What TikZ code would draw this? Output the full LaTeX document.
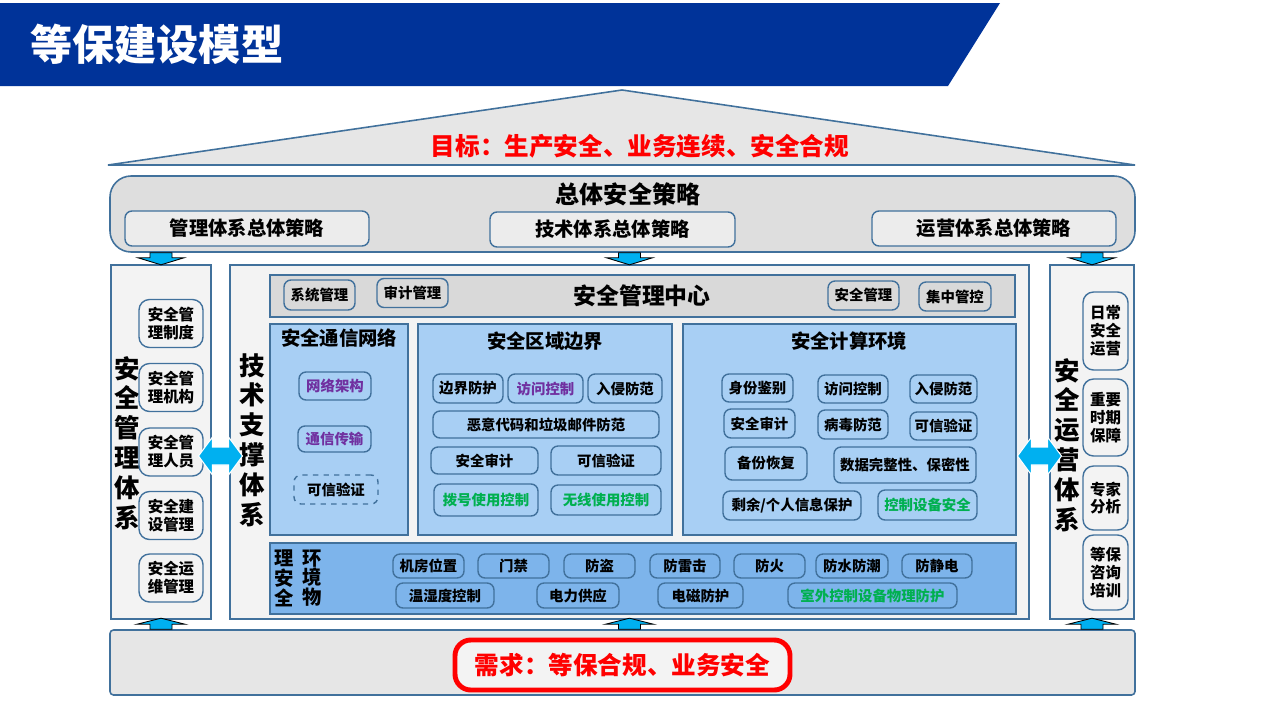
\documentclass[tikz,border=0pt]{standalone}
\usepackage{fontspec}
\setmainfont{Noto Sans CJK SC}
\usetikzlibrary{calc}

\definecolor{bannerblue}{RGB}{0,51,153}
\definecolor{lineblue}{RGB}{65,113,156}
\definecolor{roofgray}{RGB}{230,230,230}
\definecolor{boxgray}{RGB}{222,222,222}
\definecolor{subgray}{RGB}{236,236,236}
\definecolor{colgray}{RGB}{243,243,243}
\definecolor{centergray}{RGB}{217,217,217}
\definecolor{panelblue}{RGB}{168,207,244}
\definecolor{physblue}{RGB}{125,180,235}
\definecolor{arrowblue}{RGB}{0,176,240}
\definecolor{textpurple}{RGB}{112,48,160}
\definecolor{textgreen}{RGB}{0,176,80}

\tikzset{
  sz/.style 2 args={minimum width=#1*0.02cm, minimum height=#2*0.02cm, inner sep=0pt},
  fs/.style 2 args={font=\bfseries\fontsize{#1}{#2}\selectfont},
  boxline/.style={draw=lineblue, line width=0.9pt},
  item/.style={draw=lineblue, line width=0.8pt, rounded corners=4pt, align=center, fs={8.2}{10}},
  sidetitle/.style={align=center, fs={14.5}{17}},
  downarr/.pic={\filldraw[fill=arrowblue, draw=black, line width=0.5pt]
    (-11,0) -- (11,0) -- (11,5) -- (23,5) -- (0,12) -- (-23,5) -- (-11,5) -- cycle;},
  uparr/.pic={\filldraw[fill=arrowblue, draw=black, line width=0.5pt]
    (-11,0) -- (-11,-5) -- (-24,-5) -- (0,-11) -- (24,-5) -- (11,-5) -- (11,0) -- cycle;},
  dblarr/.pic={\filldraw[fill=arrowblue, draw=white, line width=0.6pt]
    (-22,0) -- (-8,-19) -- (-8,-9) -- (8,-9) -- (8,-19) -- (22,0) -- (8,19) -- (8,9)
    -- (-8,9) -- (-8,19) -- cycle;}
}

\begin{document}
\begin{tikzpicture}[x=0.02cm, y=-0.02cm]
    \useasboundingbox (0,0) rectangle (1280,720);

    % Header banner
    \fill[bannerblue] (0,3) -- (1000,3) -- (948,86) -- (0,86) -- cycle;
    \node[anchor=west, text=white, fs={24}{28}] (title) at (24,44) {等保建设模型};

    % Roof: goal
    \draw[lineblue, line width=0.9pt, fill=roofgray] (108,165) -- (622,90) -- (1135,165) -- cycle;
    \node[text=red, fs={14}{16}] (goal) at (640,146) {目标：生产安全、业务连续、安全合规};

    % Overall policy
    \node[boxline, fill=boxgray, rounded corners=12pt, sz={1025}{76}] (policy) at (622.5,214) {};
    \node[fs={13.7}{16}] (policytitle) at (628,194) {总体安全策略};
    \node[item, fill=subgray, fs={11}{13}, sz={244}{35}] (mgmtpolicy) at (247,228.5) {管理体系总体策略};
    \node[item, fill=subgray, fs={11}{13}, sz={245}{35}] (techpolicy) at (612.5,229.5) {技术体系总体策略};
    \node[item, fill=subgray, fs={11}{13}, sz={244}{35}] (opspolicy) at (994,228.5) {运营体系总体策略};

    % Three columns
    \node[boxline, fill=colgray, sz={100}{354}] (mgmtcol) at (161,442) {};
    \node[boxline, fill=colgray, sz={799}{354}] (techframe) at (629.5,442) {};
    \node[boxline, fill=colgray, sz={84}{354}] (opscol) at (1092,442) {};

    \pic at (policy.south -| mgmtcol) {downarr};
    \pic at (policy.south -| techframe) {downarr};
    \pic at (policy.south -| opscol) {downarr};

    % Management system
    \node[sidetitle] (mgmttitle) at (127,443) {安\\全\\管\\理\\体\\系};
    \node[item, fill=colgray, rounded corners=6pt, fs={8.8}{10.2}, sz={64}{48}] (m1) at (171,323.5) {安全管\\理制度};
    \node[item, fill=colgray, rounded corners=6pt, fs={8.8}{10.2}, sz={64}{48}] (m2) at (171,387.5) {安全管\\理机构};
    \node[item, fill=colgray, rounded corners=6pt, fs={8.8}{10.2}, sz={64}{48}] (m3) at (171,452) {安全管\\理人员};
    \node[item, fill=colgray, rounded corners=6pt, fs={8.8}{10.2}, sz={64}{48}] (m4) at (171,515.5) {安全建\\设管理};
    \node[item, fill=colgray, rounded corners=6pt, fs={8.8}{10.2}, sz={64}{48}] (m5) at (171,578) {安全运\\维管理};

    % Technical system
    \node[sidetitle] (techtitle) at (252,440) {技\\术\\支\\撑\\体\\系};

    % Security management center
    \node[boxline, fill=centergray, sz={745}{42}] (center) at (642.5,296) {};
    \node[fs={13}{15}] (centertitle) at (642,296) {安全管理中心};
    \node[item, fill=centergray, sz={71}{30}] (c1) at (319.5,295) {系统管理};
    \node[item, fill=centergray, sz={71}{29}] (c2) at (412.5,293) {审计管理};
    \node[item, fill=centergray, sz={71}{29}] (c3) at (863.5,295.5) {安全管理};
    \node[item, fill=centergray, sz={72}{29}] (c4) at (955,296.5) {集中管控};

    % Communication network
    \node[boxline, fill=panelblue, sz={138}{211}] (comm) at (339,429.5) {};
    \node[fs={11}{13}] (commtitle) at (339,338) {安全通信网络};
    \node[item, fill=panelblue, text=textpurple, sz={72}{28}] (n1) at (335,386) {网络架构};
    \node[item, fill=panelblue, text=textpurple, sz={73}{26}] (n2) at (334.5,439) {通信传输};
    \node[item, fill=panelblue, dashed, sz={84}{29}] (n3) at (336,489.5) {可信验证};

    % Area boundary
    \node[boxline, fill=panelblue, sz={254}{211}] (border) at (545,429.5) {};
    \node[fs={11}{13}] (bordertitle) at (545,341) {安全区域边界};
    \node[item, fill=panelblue, sz={70}{29}] (b1) at (468,388.5) {边界防护};
    \node[item, fill=panelblue, text=textpurple, sz={75}{29}] (b2) at (545.5,388.5) {访问控制};
    \node[item, fill=panelblue, sz={74}{29}] (b3) at (625,388.5) {入侵防范};
    \node[item, fill=panelblue, sz={226}{27}] (b4) at (546,424.5) {恶意代码和垃圾邮件防范};
    \node[item, fill=panelblue, sz={107}{27}] (b5) at (484.5,460.5) {安全审计};
    \node[item, fill=panelblue, sz={110}{29}] (b6) at (606,460.5) {可信验证};
    \node[item, fill=panelblue, text=textgreen, sz={104}{32}] (b7) at (486,500) {拨号使用控制};
    \node[item, fill=panelblue, text=textgreen, sz={110}{30}] (b8) at (606,500) {无线使用控制};

    % Computing environment
    \node[boxline, fill=panelblue, sz={333}{211}] (compute) at (849.5,429.5) {};
    \node[fs={11}{13}] (computetitle) at (849,341) {安全计算环境};
    \node[item, fill=panelblue, sz={71}{28}] (e1) at (757.5,388) {身份鉴别};
    \node[item, fill=panelblue, sz={70}{28}] (e2) at (853,389) {访问控制};
    \node[item, fill=panelblue, sz={67}{28}] (e3) at (943.5,389) {入侵防范};
    \node[item, fill=panelblue, sz={71}{29}] (e4) at (759.5,423.5) {安全审计};
    \node[item, fill=panelblue, sz={70}{29}] (e5) at (853,424.5) {病毒防范};
    \node[item, fill=panelblue, sz={67}{28}] (e6) at (943.5,426) {可信验证};
    \node[item, fill=panelblue, sz={82}{33}] (e7) at (766,463.5) {备份恢复};
    \node[item, fill=panelblue, sz={142}{36}] (e8) at (905,465) {数据完整性、保密性};
    \node[item, fill=panelblue, sz={138}{29}] (e9) at (792,505.5) {剩余/个人信息保护};
    \node[item, fill=panelblue, text=textgreen, sz={99}{30}] (e10) at (927.5,505) {控制设备安全};

    % Physical environment
    \node[boxline, fill=physblue, sz={746}{71}] (phys) at (643,578.5) {};
    \node[align=center, fs={11}{11.3}] (physa) at (284,578) {理\\安\\全};
    \node[align=center, fs={11}{11.3}] (physb) at (312,578) {环\\境\\物};
    \node[item, fill=physblue, sz={71}{24}] (p1) at (428.5,566) {机房位置};
    \node[item, fill=physblue, sz={71}{24}] (p2) at (513.5,566) {门禁};
    \node[item, fill=physblue, sz={71}{24}] (p3) at (599.5,566) {防盗};
    \node[item, fill=physblue, sz={70}{24}] (p4) at (685,566) {防雷击};
    \node[item, fill=physblue, sz={71}{24}] (p5) at (769.5,566) {防火};
    \node[item, fill=physblue, sz={72}{24}] (p6) at (852,566) {防水防潮};
    \node[item, fill=physblue, sz={70}{24}] (p7) at (937,566) {防静电};
    \node[item, fill=physblue, sz={98}{25}] (p8) at (445,595.5) {温湿度控制};
    \node[item, fill=physblue, sz={82}{25}] (p9) at (578,595.5) {电力供应};
    \node[item, fill=physblue, sz={85}{25}] (p10) at (700.5,595.5) {电磁防护};
    \node[item, fill=physblue, text=textgreen, sz={169}{25}] (p11) at (872.5,595.5) {室外控制设备物理防护};

    % Operations system
    \node[sidetitle] (opstitle) at (1067,445) {安\\全\\运\\营\\体\\系};
    \node[item, fill=colgray, rounded corners=6pt, fs={8.8}{10.2}, sz={45}{78}] (o1) at (1105.5,331) {日常\\安全\\运营};
    \node[item, fill=colgray, rounded corners=6pt, fs={8.8}{10.2}, sz={45}{77}] (o2) at (1105.5,417.5) {重要\\时期\\保障};
    \node[item, fill=colgray, rounded corners=6pt, fs={8.8}{10.2}, sz={45}{64}] (o3) at (1105.5,498) {专家\\分析};
    \node[item, fill=colgray, rounded corners=6pt, fs={8.8}{10.2}, sz={45}{75}] (o4) at (1105.5,572.5) {等保\\咨询\\培训};

    % Links between the columns
    \pic at ($(mgmtcol.east)!0.5!(techframe.west)+(0,14)$) {dblarr};
    \pic at ($(techframe.east)!0.5!(opscol.west)+(0,14)$) {dblarr};

    % Requirement base
    \node[boxline, fill=roofgray, rounded corners=2pt, sz={1025}{65}] (basebox) at (622.5,662.5) {};
    \node[draw=red, line width=2.8pt, rounded corners=9pt, fill=colgray, text=red,
          fs={14}{16}, sz={335}{50}] (demand) at (622.5,665) {需求：等保合规、业务安全};

    \pic at (basebox.north -| mgmtcol) {uparr};
    \pic at (basebox.north -| techframe) {uparr};
    \pic at (basebox.north -| opscol) {uparr};
\end{tikzpicture}
\end{document}
